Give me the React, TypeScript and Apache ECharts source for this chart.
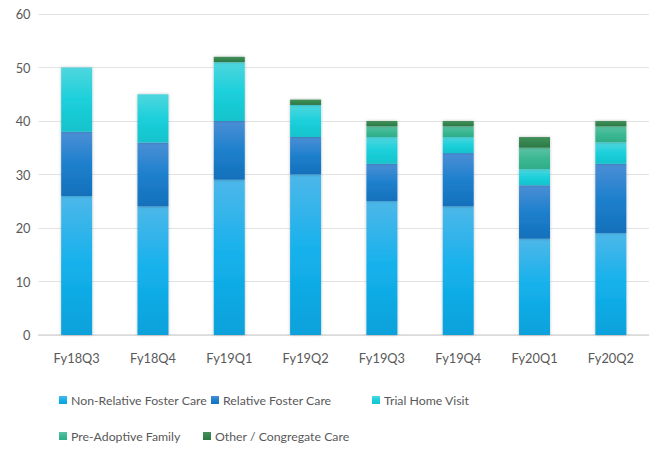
import React, { useEffect, useRef } from "react";
import * as echarts from "echarts";

const categories = ["Fy18Q3", "Fy18Q4", "Fy19Q1", "Fy19Q2", "Fy19Q3", "Fy19Q4", "Fy20Q1", "Fy20Q2"];
const nonRelative = [26, 24, 29, 30, 25, 24, 18, 19];
const relative = [12, 12, 11, 7, 7, 10, 10, 13];
const trialHome = [12, 9, 11, 6, 5, 3, 3, 4];
const preAdoptive = [0, 0, 0, 0, 2, 2, 4, 3];
const otherCare = [0, 0, 1, 1, 1, 1, 2, 1];
const yTicks = [0, 10, 20, 30, 40, 50, 60];

const seriesNames = [
  "Non-Relative Foster Care",
  "Relative Foster Care",
  "Trial Home Visit",
  "Pre-Adoptive Family",
  "Other / Congregate Care",
];
const seriesData = [nonRelative, relative, trialHome, preAdoptive, otherCare];
const gradients = [
  ["#4db7e9", "#14b1ec", "#0aa1db"],
  ["#4b8fd5", "#1e80cd", "#1470bb"],
  ["#4fd6de", "#1cd0db", "#13c3cc"],
  ["#5dc3a3", "#3bb892", "#2eae88"],
  ["#43905b", "#368550", "#2b7843"],
];
const legendColors = ["#16aee6", "#1f7fce", "#1fcfdb", "#3cb893", "#358450"];

const FONT = "Lato, 'Liberation Sans', sans-serif";

export default function App() {
  const ref = useRef<HTMLDivElement>(null);
  useEffect(() => {
    if (!ref.current) return;
    const chart = echarts.init(ref.current, null, { renderer: "svg" });
    const legendPos = [
      { left: 59, top: 394 },
      { left: 211, top: 394 },
      { left: 372, top: 394 },
      { left: 59, top: 430 },
      { left: 203, top: 430 },
    ];
    chart.setOption({
      animation: false,
      grid: { left: 38.5, right: -3.5, top: 14, bottom: 114, containLabel: false },
      legend: seriesNames.map((n, i) => ({
        data: [n],
        left: legendPos[i].left,
        top: legendPos[i].top,
        itemWidth: 8,
        itemHeight: 8,
        itemGap: 4,
        icon: "rect",
        padding: 0,
        textStyle: { color: "#595959", fontSize: 12.3, fontFamily: FONT, padding: [0, 0, 0, -1] },
        selectedMode: false,
      })),
      xAxis: {
        type: "category",
        data: categories,
        axisLine: { lineStyle: { color: "#d9d9d9", width: 1.5 } },
        axisTick: { show: false },
        axisLabel: { color: "#595959", fontSize: 12.8, fontFamily: FONT, margin: 16 },
      },
      yAxis: {
        type: "value",
        min: yTicks[0],
        max: yTicks[yTicks.length - 1],
        interval: 10,
        axisLine: { show: false },
        axisTick: { show: false },
        splitLine: { lineStyle: { color: "#e3e3e3", width: 1 } },
        axisLabel: { color: "#595959", fontSize: 12.8, fontFamily: FONT, margin: 8 },
      },
      series: seriesNames.map((name, i) => ({
        name,
        type: "bar",
        stack: "total",
        barWidth: 31,
        data: seriesData[i].map((v) => (v === 0 ? "-" : v)),
        itemStyle: {
          color: new echarts.graphic.LinearGradient(0, 0, 0, 1, [
            { offset: 0, color: gradients[i][0] },
            { offset: 0.5, color: gradients[i][1] },
            { offset: 1, color: gradients[i][2] },
          ]),
          shadowBlur: 3,
          shadowColor: "rgba(0,0,0,0.25)",
          shadowOffsetX: 0,
          shadowOffsetY: 0,
        },
        emphasis: { disabled: true },
      })),
      color: legendColors,
    });
    return () => chart.dispose();
  }, []);
  return <div ref={ref} style={{ width: 649, height: 449, position: "absolute", left: 0, top: 0 }} />;
}
